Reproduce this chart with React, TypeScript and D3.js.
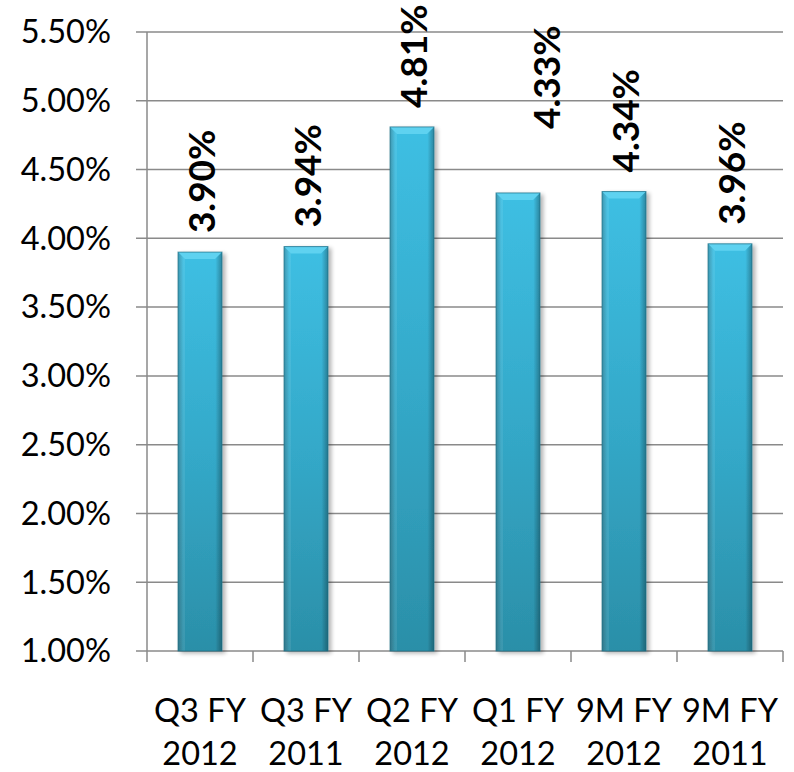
import React from "react";
import * as d3 from "d3";

const categories: string[][] = [
  ["Q3 FY", "2012"],
  ["Q3 FY", "2011"],
  ["Q2 FY", "2012"],
  ["Q1 FY", "2012"],
  ["9M FY", "2012"],
  ["9M FY", "2011"],
];
const values: number[] = [3.9, 3.94, 4.81, 4.33, 4.34, 3.96];
const valueLabels: string[] = ["3.90%", "3.94%", "4.81%", "4.33%", "4.34%", "3.96%"];
const yTicks: number[] = [1.0, 1.5, 2.0, 2.5, 3.0, 3.5, 4.0, 4.5, 5.0, 5.5];

const W = 794;
const H = 772;
const left = 147;
const right = 783;
const top = 32;
const bottom = 651;
const FONT = "Lato, 'Open Sans', 'DejaVu Sans', sans-serif";

export default function App() {
  const x = d3
    .scaleBand<number>()
    .domain(d3.range(values.length))
    .range([left, right])
    .paddingInner(0)
    .paddingOuter(0);
  const y = d3.scaleLinear().domain([1, 5.5]).range([bottom, top]);
  const bw = x.bandwidth() * 0.415;
  const fmt = (v: number) => v.toFixed(2) + "%";
  // manual label adjustments (as placed in the original chart)
  const labelShift = [
    [0, 0],
    [0, 0],
    [0, 0],
    [27, -45],
    [0, 0],
    [0, 0],
  ];
  const edges = d3.range(values.length + 1).map((i) => left + i * x.step());

  return (
    <svg
      width={W}
      height={H}
      style={{ position: "absolute", left: 0, top: 0, background: "#fff" }}
    >
      <defs>
        <linearGradient id="vgrad" x1="0" y1="0" x2="0" y2="1">
          <stop offset="0" stopColor="#3EBFE3" />
          <stop offset="0.5" stopColor="#34A9C9" />
          <stop offset="1" stopColor="#2B8FA8" />
        </linearGradient>
        <linearGradient id="hgrad" x1="0" y1="0" x2="1" y2="0">
          <stop offset="0" stopColor="#000" stopOpacity="0.25" />
          <stop offset="0.12" stopColor="#000" stopOpacity="0" />
          <stop offset="0.85" stopColor="#000" stopOpacity="0" />
          <stop offset="1" stopColor="#000" stopOpacity="0.3" />
        </linearGradient>
        <filter id="shadow" x="-20%" y="-5%" width="150%" height="115%">
          <feGaussianBlur in="SourceAlpha" stdDeviation="2" />
          <feOffset dx="3" dy="2" result="b" />
          <feComponentTransfer>
            <feFuncA type="linear" slope="0.3" />
          </feComponentTransfer>
          <feMerge>
            <feMergeNode />
            <feMergeNode in="SourceGraphic" />
          </feMerge>
        </filter>
      </defs>

      {/* gridlines */}
      {yTicks.map((t) => (
        <line
          key={"g" + t}
          x1={left - 11}
          x2={right}
          y1={y(t)}
          y2={y(t)}
          stroke="#8A8A8A"
          strokeWidth={1.5}
        />
      ))}
      {/* y axis line */}
      <line x1={left} x2={left} y1={top} y2={bottom} stroke="#8A8A8A" strokeWidth={1.5} />
      {/* x ticks */}
      {edges.map((e, i) => (
        <line
          key={"xt" + i}
          x1={e}
          x2={e}
          y1={bottom}
          y2={bottom + 11}
          stroke="#8A8A8A"
          strokeWidth={1.5}
        />
      ))}
      {/* y labels */}
      {yTicks.map((t) => (
        <text
          key={"yl" + t}
          x={111}
          y={y(t)}
          dy="0.35em"
          textAnchor="end"
          fontFamily={FONT}
          fontSize={32.5}
          fill="#000"
        >
          {fmt(t)}
        </text>
      ))}

      {/* bars */}
      {values.map((v, i) => {
        const cx = (x(i) as number) + x.bandwidth() / 2;
        const bx = cx - bw / 2;
        const by = y(v);
        const bh = y(1) - by;
        const bv = 7;
        return (
          <g key={"b" + i} filter="url(#shadow)">
            <rect x={bx} y={by} width={bw} height={bh} fill="url(#vgrad)" />
            <rect x={bx} y={by} width={bw} height={bh} fill="url(#hgrad)" />
            <polygon
              points={`${bx},${by} ${bx + bw},${by} ${bx + bw - bv},${by + bv} ${bx + bv},${by + bv}`}
              fill="#5FD2F0"
            />
            <polygon
              points={`${bx},${by} ${bx + bv},${by + bv} ${bx + bv},${by + bh} ${bx},${by + bh}`}
              fill="#ffffff"
              opacity={0.08}
            />
            <rect
              x={bx}
              y={by}
              width={bw}
              height={bh}
              fill="none"
              stroke="#1E6E84"
              strokeWidth={1}
              strokeOpacity={0.7}
            />
          </g>
        );
      })}

      {/* value labels */}
      {values.map((v, i) => {
        const cx = (x(i) as number) + x.bandwidth() / 2;
        const lx = cx + 15 + labelShift[i][0];
        const ly = y(v) - 19 + labelShift[i][1];
        return (
          <text
            key={"vl" + i}
            transform={`translate(${lx},${ly}) rotate(-90)`}
            fontFamily={FONT}
            fontWeight="bold"
            fontSize={37}
            fill="#000"
          >
            {valueLabels[i]}
          </text>
        );
      })}

      {/* x labels */}
      {categories.map((c, i) => {
        const cx = (x(i) as number) + x.bandwidth() / 2;
        return (
          <text
            key={"xl" + i}
            textAnchor="middle"
            fontFamily={FONT}
            fontSize={32.5}
            fill="#000"
          >
            <tspan x={cx} y={722}>
              {c[0]}
            </tspan>
            <tspan x={cx} y={765}>
              {c[1]}
            </tspan>
          </text>
        );
      })}
    </svg>
  );
}
